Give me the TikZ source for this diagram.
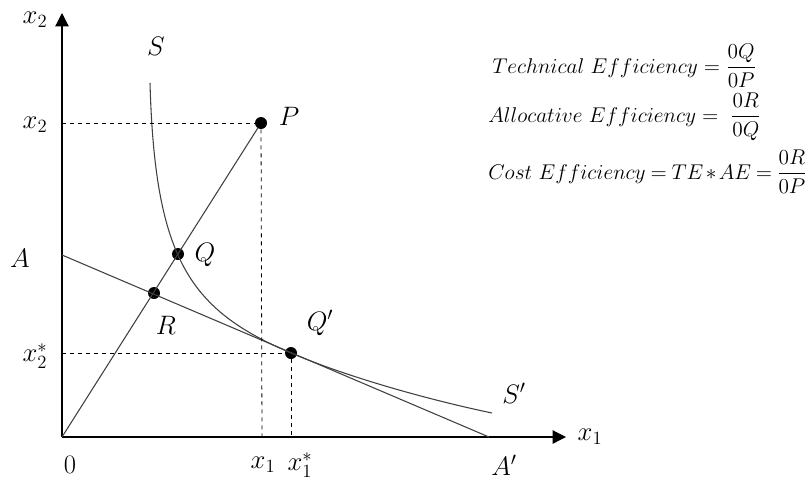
\RequirePackage{fix-cm}
\documentclass[tikz,border=0pt]{standalone}
\usepackage{amsmath}
\usetikzlibrary{arrows.meta}
\tikzset{
  axisline/.style={-{Triangle[length=10pt,width=10pt]},line width=0.9pt},
  curveline/.style={line width=0.8pt,draw=black!75},
  guide/.style={dashed,line width=0.6pt},
  pt/.style={circle,fill=black,inner sep=0pt,minimum size=9pt},
  lbl/.style={font=\fontsize{20}{24}\selectfont},
  eqn/.style={font=\fontsize{16}{19}\selectfont,anchor=west,inner sep=0pt},
}

\begin{document}
\begin{tikzpicture}[x=0.75pt,y=-0.75pt]
  \useasboundingbox (0,0) rectangle (812,486);

  % ===== axes =====
  \coordinate (O)    at (62,437);
  \coordinate (ytip) at (62,13);
  \coordinate (xtip) at (566,437);
  \draw[axisline] (O) -- (ytip);
  \draw[axisline] (O) -- (xtip);

  % ===== points =====
  \node[pt] (P)  at (261,123) {};
  \node[pt] (Q)  at (178,254) {};
  \node[pt] (R)  at (154,293) {};
  \node[pt] (Qp) at (291,353) {};

  % ===== isocost line and ray =====
  \coordinate (A)  at (62,255);
  \coordinate (Ap) at (489,437);
  \draw[curveline] (A) -- (Ap);
  \draw[curveline] (O) -- (P);

  % ===== isoquant S S' =====
  \coordinate (S0) at (150,83);
  \coordinate (S1) at (492,413);
  \draw[curveline] (S0) .. controls (155,260) and (190,310) .. (Qp.center)
                        .. controls (350,378) and (430,400) .. (S1);

  % ===== guides =====
  \coordinate (x2y) at (62,123);
  \coordinate (x1x) at (262,437);
  \coordinate (x2s) at (62,353);
  \coordinate (x1s) at (291,437);
  \draw[guide] (x2y) -- (P);
  \draw[guide] (P) -- (x1x);
  \draw[guide] (x2s) -- (Qp);
  \draw[guide] (Qp) -- (x1s);

  % ===== labels =====
  \node[lbl] (lx2top) at (35,20)   {$x_2$};
  \node[lbl] (lx2)    at (35,125)  {$x_2$};
  \node[lbl] (lA)     at (20,258)  {$A$};
  \node[lbl] (lx2s)   at (35,356)  {$x_2^*$};
  \node[lbl] (l0)     at (70,465)  {$0$};
  \node[lbl] (lx1)    at (263,465) {$x_1$};
  \node[lbl] (lx1s)   at (300,465) {$x_1^*$};
  \node[lbl] (lAp)    at (504,465) {$A'$};
  \node[lbl] (lx1end) at (590,437) {$x_1$};
  \node[lbl] (lS)     at (156,46)  {$S$};
  \node[lbl] (lSp)    at (514,393) {$S'$};
  \node[lbl] (lP)     at (289,116) {$P$};
  \node[lbl] (lQ)     at (205,255) {$Q$};
  \node[lbl] (lR)     at (166,325) {$R$};
  \node[lbl] (lQp)    at (320,323) {$Q'$};

  % ===== efficiency measures =====
  \node[eqn] (te) at (492,66)  {$Technical\ Efficiency = \dfrac{0Q}{0P}$};
  \node[eqn] (ae) at (488,117) {$Allocative\ Efficiency =\ \dfrac{0R}{0Q}$};
  \node[eqn] (ce) at (488,172) {\thickmuskip=4mu\medmuskip=2mu
    $Cost\ Efficiency = TE * AE = \dfrac{0R}{0P}$};
\end{tikzpicture}
\end{document}
